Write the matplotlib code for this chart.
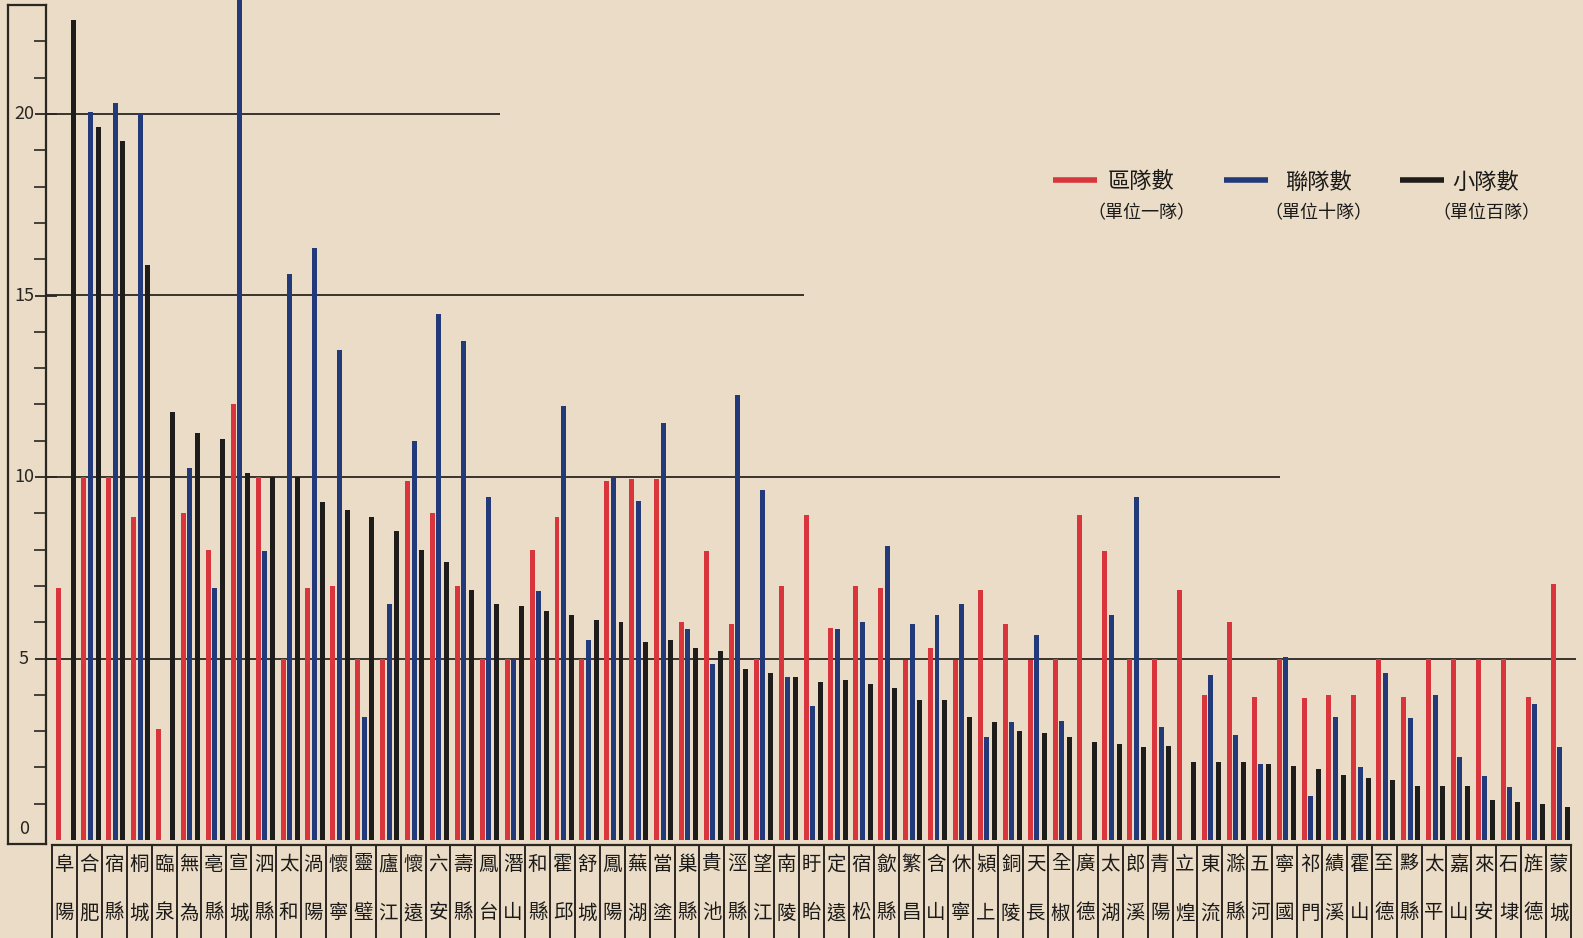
import numpy as np
import matplotlib.pyplot as plt
from matplotlib import transforms

plt.rcParams['font.family'] = ['Noto Sans CJK TC', 'DejaVu Sans']

# 安徽各縣 區隊 / 聯隊 / 小隊 數
counties = ['阜陽', '合肥', '宿縣', '桐城', '臨泉', '無為', '亳縣', '宣城', '泗縣', '太和',
            '渦陽', '懷寧', '靈璧', '廬江', '懷遠', '六安', '壽縣', '鳳台', '潛山', '和縣',
            '霍邱', '舒城', '鳳陽', '蕪湖', '當塗', '巢縣', '貴池', '涇縣', '望江', '南陵',
            '盱眙', '定遠', '宿松', '歙縣', '繁昌', '含山', '休寧', '潁上', '銅陵', '天長',
            '全椒', '廣德', '太湖', '郎溪', '青陽', '立煌', '東流', '滁縣', '五河', '寧國',
            '祁門', '績溪', '霍山', '至德', '黟縣', '太平', '嘉山', '來安', '石埭', '旌德', '蒙城']

# 區隊數 (單位一隊)
red = [6.95, 10.0, 10.0, 8.9, 3.05, 9.0, 8.0, 12.0, 10.0, 5.0,
       6.95, 7.0, 5.0, 5.0, 9.9, 9.0, 7.0, 5.0, 5.0, 8.0,
       8.9, 5.0, 9.9, 9.95, 9.95, 6.0, 7.95, 5.95, 5.0, 7.0,
       8.95, 5.85, 7.0, 6.95, 4.95, 5.3, 4.95, 6.9, 5.95, 4.95,
       5.0, 8.95, 7.95, 5.0, 5.0, 6.9, 4.0, 6.0, 3.95, 5.0,
       3.9, 4.0, 4.0, 5.0, 3.95, 5.0, 5.0, 5.0, 5.0, 3.95, 7.05]
# 聯隊數 (單位十隊)
blue = [0, 20.05, 20.3, 20.0, 0, 10.25, 6.95, 24.0, 7.95, 15.6,
        16.3, 13.5, 3.4, 6.5, 11.0, 14.5, 13.75, 9.45, 4.95, 6.85,
        11.95, 5.5, 10.0, 9.35, 11.5, 5.8, 4.85, 12.25, 9.65, 4.5,
        3.7, 5.8, 6.0, 8.1, 5.95, 6.2, 6.5, 2.85, 3.25, 5.65,
        3.28, 0, 6.2, 9.45, 3.1, 0, 4.55, 2.9, 2.1, 5.05,
        1.2, 3.4, 2.0, 4.6, 3.35, 4.0, 2.3, 1.75, 1.45, 3.75, 2.55]
# 小隊數 (單位百隊)
black = [22.6, 19.65, 19.25, 15.85, 11.8, 11.2, 11.05, 10.1, 10.0, 10.0,
         9.3, 9.1, 8.9, 8.5, 8.0, 7.65, 6.9, 6.5, 6.45, 6.3,
         6.2, 6.05, 6.0, 5.45, 5.5, 5.3, 5.2, 4.7, 4.6, 4.5,
         4.35, 4.4, 4.3, 4.2, 3.85, 3.85, 3.4, 3.25, 3.0, 2.95,
         2.84, 2.7, 2.65, 2.55, 2.6, 2.15, 2.15, 2.15, 2.1, 2.05,
         1.95, 1.8, 1.7, 1.65, 1.5, 1.5, 1.5, 1.1, 1.05, 1.0, 0.9]

ref_levels = [20, 15, 10, 5]
ref_ends = [18.0, 30.2, 49.3, 61.2]

c_red = '#d8353c'
c_blue = '#22397a'
c_black = '#1f1d1c'
c_ink = '#2a2622'
bg = '#eadcc6'

W, H = 1583, 938
fig = plt.figure(figsize=(W / 100, H / 100), dpi=100)
fig.patch.set_facecolor(bg)

base_px = 840
unit_px = 36.3
x0_px, x1_px = 52, 1571
n = len(counties)

# 全圖像素座標層 (表格、圖例)
ov = fig.add_axes([0, 0, 1, 1])
ov.set_xlim(0, W)
ov.set_ylim(H, 0)
ov.axis('off')
ov.set_facecolor('none')

ax = fig.add_axes([x0_px / W, (H - base_px) / H, (x1_px - x0_px) / W, base_px / H])
ax.set_facecolor('none')
ax.set_xlim(0, n)
ax.set_ylim(0, base_px / unit_px)
ax.axis('off')

x = np.arange(n)
bw = 0.2
ax.bar(x + 0.28, red, bw, color=c_red, zorder=3)
ax.bar(x + 0.54, blue, bw, color=c_blue, zorder=3)
ax.bar(x + 0.85, black, bw, color=c_black, zorder=3)

ax.hlines(ref_levels, -0.25, ref_ends, colors=c_ink, lw=1.3, zorder=2, clip_on=False)

# 左側刻度框
box = fig.add_axes([8 / W, (H - 844) / H, 38 / W, (844 - 5) / H])
box.set_facecolor('none')
box.set_xlim(0, 1)
box.set_ylim(-4 / unit_px, (base_px - 5) / unit_px)
for s in box.spines.values():
    s.set_color(c_ink)
    s.set_linewidth(1.6)
box.set_xticks([])
box.yaxis.tick_right()
box.set_yticks([5, 10, 15, 20])
box.set_yticks([v for v in range(1, 23) if v % 5], minor=True)
box.tick_params(axis='y', which='major', direction='inout', length=16, width=1.3,
                color=c_ink, labelright=False, labelleft=False)
box.tick_params(axis='y', which='minor', direction='in', length=9, width=1.2, color=c_ink)
for v in [20, 15, 10, 5]:
    box.text(0.42, v, str(v), ha='center', va='center', fontsize=13,
             style='italic', color=c_ink)
box.text(0.42, 0.3, '0', ha='center', va='center', fontsize=13, color=c_ink)

# 縣名表格
tr = transforms.blended_transform_factory(ax.transData, ov.transData)
ov.plot([0, n], [845, 845], color=c_ink, lw=1.6, transform=tr, clip_on=False)
for k in range(n + 1):
    ov.plot([k, k], [845, H], color=c_ink, lw=1.4, transform=tr, clip_on=False)
for k, name in enumerate(counties):
    ov.text(k + 0.5, 864, name[0], ha='center', va='center', fontsize=14,
            color='#1c1a18', transform=tr)
    ov.text(k + 0.5, 913, name[1], ha='center', va='center', fontsize=14,
            color='#1c1a18', transform=tr)

# 圖例
legend_items = [(c_red, 1053, 1097, '區隊數', '（單位一隊）', 1141),
                (c_blue, 1224, 1268, '聯隊數', '（單位十隊）', 1318),
                (c_black, 1400, 1444, '小隊數', '（單位百隊）', 1486)]
for col, xa, xb, t1, t2, xc in legend_items:
    ov.plot([xa, xb], [180, 180], color=col, lw=4, solid_capstyle='butt')
    ov.text(xc, 182, t1, ha='center', va='center', fontsize=16, color='#1c1a18')
    ov.text(xc, 213, t2, ha='center', va='center', fontsize=13, color='#1c1a18')

fig.savefig('out.png', dpi=100, facecolor=bg)
